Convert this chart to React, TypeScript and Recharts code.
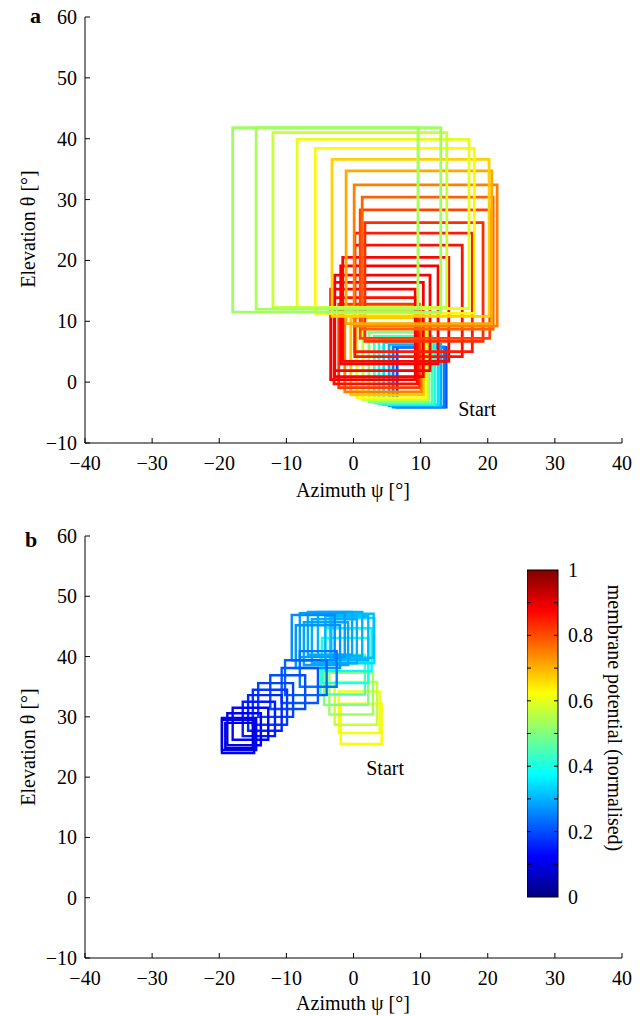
import React from 'react';
import { ComposedChart, BarChart, Bar, XAxis, YAxis, ReferenceArea, ReferenceDot } from 'recharts';

const FONT = '"Liberation Serif", "Times New Roman", Times, serif';
const FS = 20;

// ---------- axis ticks ----------
const xTicks = [-40, -30, -20, -10, 0, 10, 20, 30, 40];
const yTicks = [-10, 0, 10, 20, 30, 40, 50, 60];
const cbTicks = [0, 0.1, 0.2, 0.3, 0.4, 0.5, 0.6, 0.7, 0.8, 0.9, 1];
const cbData = [{ name: 'membrane potential', v: 1 }];

// ---------- panel a (chronological: blue "Start" -> big green) ----------
const aX1 = [6.5, 5.9, 5.3, 4.5, 3.8, 3.1, 2.3, 1.4, 0.5, -0.4, -1.3, -2.2, -2.9, -3.4, -2.8, -2.8, -1.9, -1.6, 0.2, 0.2, 1.7, 1.0, 1.3, 0.1, -1.1, -3.2, -5.7, -8.4, -12.0, -14.5, -18.0];
const aX2 = [13.8, 13.5, 13.0, 12.6, 12.1, 11.7, 11.2, 11.0, 10.7, 10.4, 10.1, 9.8, 9.5, 9.2, 10.4, 11.4, 12.6, 14.2, 16.2, 17.7, 19.3, 20.3, 20.8, 21.4, 20.6, 20.2, 18.0, 17.2, 13.9, 9.6, 13.0];
const aY1 = [-4.1, -4.1, -3.9, -3.7, -3.6, -3.4, -3.2, -2.9, -2.6, -2.1, -1.6, -0.9, -0.3, 0.4, 0.9, 1.9, 3.0, 3.4, 4.2, 5.0, 6.7, 7.2, 8.7, 9.2, 9.6, 10.8, 11.3, 12.1, 12.3, 12.0, 11.5];
const aY2 = [5.7, 5.8, 6.2, 6.5, 7.0, 7.5, 8.2, 8.8, 9.6, 10.6, 11.6, 12.8, 13.9, 15.3, 16.4, 17.6, 19.1, 20.5, 22.5, 24.5, 26.2, 28.3, 30.4, 32.4, 34.7, 36.6, 38.4, 39.9, 41.0, 41.8, 41.8];
const aV = [0.2, 0.25, 0.3, 0.35, 0.4, 0.45, 0.5, 0.56, 0.62, 0.68, 0.75, 0.82, 0.86, 0.88, 0.88, 0.88, 0.88, 0.87, 0.86, 0.85, 0.83, 0.81, 0.78, 0.75, 0.71, 0.67, 0.63, 0.6, 0.57, 0.54, 0.53];
const aStart = { x: 15.6, y: -4.4, text: 'Start' };

// ---------- panel b (chronological: yellow "Start" -> dark blue) ----------
const bX1 = [-1.9, -2.2, -2.8, -3.6, -4.4, -4.9, -4.7, -4.2, -3.5, -3.3, -4.2, -5.3, -6.2, -6.8, -7.4, -8.0, -8.6, -9.2, -8.0, -10.2, -10.7, -12.4, -14.2, -15.0, -15.7, -16.5, -18.0, -18.8, -19.6, -19.6, -19.1];
const bX2 = [4.2, 3.9, 3.5, 2.9, 2.2, 1.7, 2.2, 2.7, 3.1, 3.0, 2.2, 1.3, 0.5, -0.2, -0.8, -1.3, -2.0, -2.8, -2.5, -4.0, -5.3, -7.2, -9.0, -9.9, -10.7, -11.7, -12.7, -13.8, -14.5, -14.8, -15.0];
const bY1 = [25.5, 27.3, 28.7, 30.4, 32.0, 33.7, 35.6, 37.6, 38.9, 39.8, 39.4, 40.1, 38.9, 40.3, 38.6, 39.9, 38.1, 39.4, 35.0, 33.6, 32.3, 31.3, 30.0, 28.7, 27.7, 26.8, 26.2, 25.3, 24.5, 24.0, 24.8];
const bY2 = [32.2, 34.2, 35.8, 37.3, 39.3, 40.3, 43.1, 44.7, 46.4, 47.1, 46.7, 47.4, 46.2, 47.4, 45.7, 47.2, 45.2, 46.9, 40.9, 39.4, 38.1, 36.9, 35.6, 34.5, 33.6, 32.5, 31.5, 30.6, 29.8, 29.5, 29.0];
const bV = [0.63, 0.61, 0.57, 0.53, 0.5, 0.45, 0.4, 0.37, 0.34, 0.31, 0.305, 0.3, 0.295, 0.29, 0.285, 0.28, 0.27, 0.26, 0.24, 0.22, 0.21, 0.2, 0.19, 0.18, 0.16, 0.15, 0.13, 0.12, 0.11, 0.1, 0.09];
const bStart = { x: 1.9, y: 21.5, text: 'Start' };

// ---------- jet colormap ----------
const clamp = (t: number) => Math.max(0, Math.min(1, t));
function jet(v: number): string {
  const r = clamp(1.5 - Math.abs(4 * v - 3));
  const g = clamp(1.5 - Math.abs(4 * v - 2));
  const b = clamp(1.5 - Math.abs(4 * v - 1));
  return `rgb(${Math.round(r * 255)},${Math.round(g * 255)},${Math.round(b * 255)})`;
}
const jetStops = [0, 0.125, 0.375, 0.625, 0.875, 1];

const fmt = (v: number) => (v < 0 ? '\u2212' + Math.abs(v) : String(v));

const TM = 13; // x tick margin
const YM = 8; // y tick margin
const TL = 5; // inward tick length

const XTick = (p: any) => {
  const { x, y, payload } = p;
  return (
    <g>
      <line x1={x} x2={x} y1={y - TM} y2={y - TM - TL} stroke="#000" strokeWidth={1} />
      <text x={x} y={y} dy="0.71em" textAnchor="middle" fontSize={FS} fontFamily={FONT} fill="#000">
        {fmt(payload.value)}
      </text>
    </g>
  );
};

const YTick = (p: any) => {
  const { x, y, payload } = p;
  return (
    <g>
      <line x1={x + YM} x2={x + YM + TL} y1={y} y2={y} stroke="#000" strokeWidth={1} />
      <text x={x} y={y} dy="0.35em" textAnchor="end" fontSize={FS} fontFamily={FONT} fill="#000">
        {fmt(payload.value)}
      </text>
    </g>
  );
};

const CB_W = 31;
const CB_M = 10;
const CbTick = (p: any) => {
  const { x, y, payload, index } = p;
  return index % 2 === 0 ? (
    <text x={x} y={y} dy="0.35em" textAnchor="start" fontSize={FS} fontFamily={FONT} fill="#000">
      {String(payload.value)}
    </text>
  ) : (
    <g />
  );
};

// colour bar body with inward minor ticks on both edges
const CbShape = (p: any) => {
  const { x, y, width, height } = p;
  return (
    <g>
      <rect x={x} y={y} width={width} height={height} fill="url(#jetGrad)" stroke="#000" strokeWidth={1} />
      {cbTicks.slice(1, -1).map((t) => {
        const ty = y + height * (1 - t);
        return (
          <g key={t}>
            <line x1={x} x2={x + 4} y1={ty} y2={ty} stroke="#000" strokeWidth={1} />
            <line x1={x + width} x2={x + width - 4} y1={ty} y2={ty} stroke="#000" strokeWidth={1} />
          </g>
        );
      })}
    </g>
  );
};

function Panel(props: {
  x1: number[]; x2: number[]; y1: number[]; y2: number[]; v: number[];
  sw: number; start: { x: number; y: number; text: string };
  height: number; top: number;
}) {
  const { x1, x2, y1, y2, v, sw, start, height, top } = props;
  return (
    <ComposedChart width={642} height={height} margin={{ top, right: 20, left: 8, bottom: 0 }}>
      <XAxis
        type="number"
        dataKey="x"
        domain={[-40, 40]}
        ticks={xTicks}
        allowDataOverflow
        tickSize={0}
        tickMargin={TM}
        tickLine={false}
        axisLine={{ stroke: '#000', strokeWidth: 1 }}
        tick={XTick}
        height={47}
        interval={0}
      />
      <YAxis
        type="number"
        dataKey="y"
        domain={[-10, 60]}
        ticks={yTicks}
        allowDataOverflow
        tickSize={0}
        tickMargin={YM}
        tickLine={false}
        axisLine={{ stroke: '#000', strokeWidth: 1 }}
        tick={YTick}
        width={77}
        interval={0}
      />
      {v.map((val, i) => (
        <ReferenceArea
          key={i}
          x1={x1[i]}
          x2={x2[i]}
          y1={y1[i]}
          y2={y2[i]}
          fill="none"
          stroke={jet(val)}
          strokeWidth={sw}
          strokeOpacity={1}
          ifOverflow="visible"
        />
      ))}
      <ReferenceDot
        x={start.x}
        y={start.y}
        r={0}
        ifOverflow="visible"
        shape={(p: any) => (
          <text x={p.cx} y={p.cy} dy="0.35em" fontSize={FS} fontFamily={FONT} fill="#000">
            {start.text}
          </text>
        )}
      />
    </ComposedChart>
  );
}

function ColorBar() {
  return (
    <BarChart
      width={CB_W + 60 + 5}
      height={347}
      data={cbData}
      margin={{ top: 10, right: 5, left: 0, bottom: 10 }}
      barCategoryGap={0}
      barGap={0}
    >
      <defs>
        <linearGradient id="jetGrad" x1="0" y1="1" x2="0" y2="0">
          {jetStops.map((s) => (
            <stop key={s} offset={s} stopColor={jet(s)} />
          ))}
        </linearGradient>
      </defs>
      <XAxis dataKey="name" type="category" height={0} tick={false} axisLine={false} tickLine={false} />
      <Bar dataKey="v" shape={CbShape} isAnimationActive={false} />
      <YAxis
        type="number"
        orientation="right"
        domain={[0, 1]}
        ticks={cbTicks}
        interval={0}
        tickSize={0}
        tickMargin={CB_M}
        tickLine={false}
        axisLine={false}
        tick={CbTick}
        width={60}
      />
    </BarChart>
  );
}

const txt: React.CSSProperties = {
  position: 'absolute',
  fontFamily: FONT,
  fontSize: FS,
  color: '#000',
  whiteSpace: 'nowrap',
  lineHeight: 1,
};

export default function App() {
  return (
    <div
      style={{
        position: 'relative',
        width: 642,
        height: 1016,
        marginTop: -8,
        marginLeft: -8,
        background: '#fff',
        overflow: 'hidden',
      }}
    >
      <style>{`html,body{overflow:hidden}`}</style>
      <div style={{ position: 'absolute', left: 0, top: 0 }}>
        <Panel x1={aX1} x2={aX2} y1={aY1} y2={aY2} v={aV} sw={2.8} start={aStart} height={490} top={17} />
      </div>
      <div style={{ position: 'absolute', left: 0, top: 510 }}>
        <Panel x1={bX1} x2={bX2} y1={bY1} y2={bY2} v={bV} sw={2.4} start={bStart} height={495} top={26} />
      </div>
      <div style={{ position: 'absolute', left: 527, top: 560 }}>
        <ColorBar />
      </div>
      {/* panel letters */}
      <div style={{ ...txt, left: 30, top: 8, fontSize: 22, fontWeight: 'bold', lineHeight: '16px' }}>a</div>
      <div style={{ ...txt, left: 25, top: 532, fontSize: 22, fontWeight: 'bold', lineHeight: '16px' }}>b</div>
      {/* axis titles */}
      <div style={{ ...txt, left: 353, top: 490, transform: 'translate(-50%,-50%)' }}>Azimuth ψ [°]</div>
      <div style={{ ...txt, left: 353, top: 1003, transform: 'translate(-50%,-50%)' }}>Azimuth ψ [°]</div>
      <div style={{ ...txt, left: 28, top: 229, transform: 'translate(-50%,-50%) rotate(-90deg)' }}>Elevation θ [°]</div>
      <div style={{ ...txt, left: 28, top: 747, transform: 'translate(-50%,-50%) rotate(-90deg)' }}>Elevation θ [°]</div>
      <div style={{ ...txt, left: 615, top: 718, transform: 'translate(-50%,-50%) rotate(90deg)' }}>membrane potential (normalised)</div>
    </div>
  );
}
